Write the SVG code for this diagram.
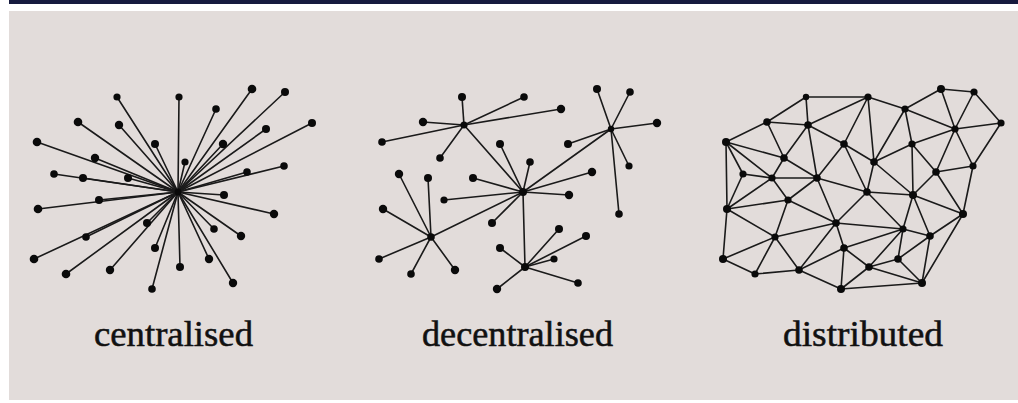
<svg xmlns="http://www.w3.org/2000/svg" width="1018" height="403" viewBox="0 0 1018 403">
<style>
.ln{stroke:#1a1a1a;stroke-width:1.6;fill:none;stroke-linecap:round}
.nd{fill:#0a0a0a}
.hb{fill:#0a0a0a}
.lbl{font-family:"Liberation Serif","Times New Roman",serif;font-size:35px;fill:#111;stroke:#111;stroke-width:0.5}
</style>
<rect x="0" y="0" width="1018" height="403" fill="#ffffff"/>
<rect x="9" y="0" width="1009" height="4" fill="#161a3e"/>
<rect x="9" y="11" width="1009" height="389" fill="#e2dcda"/>

<!-- CENTRALISED -->
<g id="centralised">
<g id="c-connectors" class="ln">
<line x1="117" y1="97" x2="178" y2="192"/>
<line x1="179" y1="97" x2="178" y2="192"/>
<line x1="252" y1="89" x2="178" y2="192"/>
<line x1="285" y1="92" x2="178" y2="192"/>
<line x1="216" y1="109" x2="178" y2="192"/>
<line x1="78" y1="122" x2="178" y2="192"/>
<line x1="119" y1="125" x2="178" y2="192"/>
<line x1="312" y1="123" x2="178" y2="192"/>
<line x1="266" y1="129" x2="178" y2="192"/>
<line x1="37" y1="142" x2="178" y2="192"/>
<line x1="155" y1="144" x2="178" y2="192"/>
<line x1="223" y1="144" x2="178" y2="192"/>
<line x1="95" y1="158" x2="178" y2="192"/>
<line x1="185" y1="162" x2="178" y2="192"/>
<line x1="284" y1="166" x2="178" y2="192"/>
<line x1="54" y1="174" x2="178" y2="192"/>
<line x1="83" y1="178" x2="178" y2="192"/>
<line x1="128" y1="178" x2="178" y2="192"/>
<line x1="247" y1="172" x2="178" y2="192"/>
<line x1="224" y1="195" x2="178" y2="192"/>
<line x1="38" y1="209" x2="178" y2="192"/>
<line x1="99" y1="200" x2="178" y2="192"/>
<line x1="274" y1="214" x2="178" y2="192"/>
<line x1="147" y1="223" x2="178" y2="192"/>
<line x1="214" y1="229" x2="178" y2="192"/>
<line x1="241" y1="236" x2="178" y2="192"/>
<line x1="86" y1="237" x2="178" y2="192"/>
<line x1="155" y1="248" x2="178" y2="192"/>
<line x1="209" y1="259" x2="178" y2="192"/>
<line x1="34" y1="259" x2="178" y2="192"/>
<line x1="66" y1="274" x2="178" y2="192"/>
<line x1="110" y1="270" x2="178" y2="192"/>
<line x1="180" y1="267" x2="178" y2="192"/>
<line x1="233" y1="283" x2="178" y2="192"/>
<line x1="152" y1="289" x2="178" y2="192"/>
</g>
<g id="c-n0"><circle class="nd" cx="117" cy="97" r="3.6"/></g>
<g id="c-n1"><circle class="nd" cx="179" cy="97" r="3.6"/></g>
<g id="c-n2"><circle class="nd" cx="252" cy="89" r="4.3"/></g>
<g id="c-n3"><circle class="nd" cx="285" cy="92" r="4"/></g>
<g id="c-n4"><circle class="nd" cx="216" cy="109" r="3.8"/></g>
<g id="c-n5"><circle class="nd" cx="78" cy="122" r="4.3"/></g>
<g id="c-n6"><circle class="nd" cx="119" cy="125" r="4.2"/></g>
<g id="c-n7"><circle class="nd" cx="312" cy="123" r="4"/></g>
<g id="c-n8"><circle class="nd" cx="266" cy="129" r="4"/></g>
<g id="c-n9"><circle class="nd" cx="37" cy="142" r="4.3"/></g>
<g id="c-n10"><circle class="nd" cx="155" cy="144" r="4"/></g>
<g id="c-n11"><circle class="nd" cx="223" cy="144" r="4.2"/></g>
<g id="c-n12"><circle class="nd" cx="95" cy="158" r="4.2"/></g>
<g id="c-n13"><circle class="nd" cx="185" cy="162" r="3.6"/></g>
<g id="c-n14"><circle class="nd" cx="284" cy="166" r="3.8"/></g>
<g id="c-n15"><circle class="nd" cx="54" cy="174" r="3.8"/></g>
<g id="c-n16"><circle class="nd" cx="83" cy="178" r="4"/></g>
<g id="c-n17"><circle class="nd" cx="128" cy="178" r="4"/></g>
<g id="c-n18"><circle class="nd" cx="247" cy="172" r="3.8"/></g>
<g id="c-hub"><circle class="hb" cx="178" cy="192" r="3.4"/></g>
<g id="c-n20"><circle class="nd" cx="224" cy="195" r="4"/></g>
<g id="c-n21"><circle class="nd" cx="38" cy="209" r="4.3"/></g>
<g id="c-n22"><circle class="nd" cx="99" cy="200" r="4"/></g>
<g id="c-n23"><circle class="nd" cx="274" cy="214" r="4.2"/></g>
<g id="c-n24"><circle class="nd" cx="147" cy="223" r="4"/></g>
<g id="c-n25"><circle class="nd" cx="214" cy="229" r="3.8"/></g>
<g id="c-n26"><circle class="nd" cx="241" cy="236" r="4.2"/></g>
<g id="c-n27"><circle class="nd" cx="86" cy="237" r="3.8"/></g>
<g id="c-n28"><circle class="nd" cx="155" cy="248" r="4"/></g>
<g id="c-n29"><circle class="nd" cx="209" cy="259" r="4.2"/></g>
<g id="c-n30"><circle class="nd" cx="34" cy="259" r="4.3"/></g>
<g id="c-n31"><circle class="nd" cx="66" cy="274" r="4.3"/></g>
<g id="c-n32"><circle class="nd" cx="110" cy="270" r="4.2"/></g>
<g id="c-n33"><circle class="nd" cx="180" cy="267" r="4"/></g>
<g id="c-n34"><circle class="nd" cx="233" cy="283" r="4.2"/></g>
<g id="c-n35"><circle class="nd" cx="152" cy="289" r="3.8"/></g>
</g>

<!-- DECENTRALISED -->
<g id="decentralised" transform="translate(345,0)">
<g id="d-connectors" class="ln">
<line x1="119" y1="125" x2="117" y2="97"/>
<line x1="119" y1="125" x2="179" y2="97"/>
<line x1="119" y1="125" x2="216" y2="109"/>
<line x1="119" y1="125" x2="78" y2="122"/>
<line x1="119" y1="125" x2="37" y2="142"/>
<line x1="119" y1="125" x2="95" y2="158"/>
<line x1="119" y1="125" x2="178" y2="192"/>
<line x1="266" y1="129" x2="252" y2="89"/>
<line x1="266" y1="129" x2="285" y2="92"/>
<line x1="266" y1="129" x2="312" y2="123"/>
<line x1="266" y1="129" x2="223" y2="144"/>
<line x1="266" y1="129" x2="284" y2="166"/>
<line x1="266" y1="129" x2="274" y2="214"/>
<line x1="266" y1="129" x2="178" y2="192"/>
<line x1="178" y1="192" x2="155" y2="144"/>
<line x1="178" y1="192" x2="185" y2="162"/>
<line x1="178" y1="192" x2="128" y2="178"/>
<line x1="178" y1="192" x2="247" y2="172"/>
<line x1="178" y1="192" x2="224" y2="195"/>
<line x1="178" y1="192" x2="99" y2="200"/>
<line x1="178" y1="192" x2="147" y2="223"/>
<line x1="178" y1="192" x2="86" y2="237"/>
<line x1="178" y1="192" x2="180" y2="267"/>
<line x1="86" y1="237" x2="54" y2="174"/>
<line x1="86" y1="237" x2="83" y2="178"/>
<line x1="86" y1="237" x2="38" y2="209"/>
<line x1="86" y1="237" x2="34" y2="259"/>
<line x1="86" y1="237" x2="66" y2="274"/>
<line x1="86" y1="237" x2="110" y2="270"/>
<line x1="180" y1="267" x2="214" y2="229"/>
<line x1="180" y1="267" x2="241" y2="236"/>
<line x1="180" y1="267" x2="155" y2="248"/>
<line x1="180" y1="267" x2="209" y2="259"/>
<line x1="180" y1="267" x2="233" y2="283"/>
<line x1="180" y1="267" x2="152" y2="289"/>
</g>
<g id="d-n0"><circle class="nd" cx="117" cy="97" r="4"/></g>
<g id="d-n1"><circle class="nd" cx="179" cy="97" r="3.8"/></g>
<g id="d-n2"><circle class="nd" cx="252" cy="89" r="4"/></g>
<g id="d-n3"><circle class="nd" cx="285" cy="92" r="3.8"/></g>
<g id="d-n4"><circle class="nd" cx="216" cy="109" r="4.2"/></g>
<g id="d-n5"><circle class="nd" cx="78" cy="122" r="4.2"/></g>
<g id="d-hubA"><circle class="hb" cx="119" cy="125" r="3.6"/></g>
<g id="d-n7"><circle class="nd" cx="312" cy="123" r="4.2"/></g>
<g id="d-hubB"><circle class="hb" cx="266" cy="129" r="3.2"/></g>
<g id="d-n9"><circle class="nd" cx="37" cy="142" r="3.8"/></g>
<g id="d-n10"><circle class="nd" cx="155" cy="144" r="4"/></g>
<g id="d-n11"><circle class="nd" cx="223" cy="144" r="4"/></g>
<g id="d-n12"><circle class="nd" cx="95" cy="158" r="3.8"/></g>
<g id="d-n13"><circle class="nd" cx="185" cy="162" r="3.8"/></g>
<g id="d-n14"><circle class="nd" cx="284" cy="166" r="3.6"/></g>
<g id="d-n15"><circle class="nd" cx="54" cy="174" r="4.2"/></g>
<g id="d-n16"><circle class="nd" cx="83" cy="178" r="4"/></g>
<g id="d-n17"><circle class="nd" cx="128" cy="178" r="4"/></g>
<g id="d-n18"><circle class="nd" cx="247" cy="172" r="4.2"/></g>
<g id="d-hubC"><circle class="hb" cx="178" cy="192" r="4"/></g>
<g id="d-n20"><circle class="nd" cx="224" cy="195" r="4.2"/></g>
<g id="d-n21"><circle class="nd" cx="38" cy="209" r="4.2"/></g>
<g id="d-n22"><circle class="nd" cx="99" cy="200" r="3.6"/></g>
<g id="d-n23"><circle class="nd" cx="274" cy="214" r="3.8"/></g>
<g id="d-n24"><circle class="nd" cx="147" cy="223" r="4"/></g>
<g id="d-n25"><circle class="nd" cx="214" cy="229" r="4"/></g>
<g id="d-n26"><circle class="nd" cx="241" cy="236" r="4"/></g>
<g id="d-hubD"><circle class="hb" cx="86" cy="237" r="3.8"/></g>
<g id="d-n28"><circle class="nd" cx="155" cy="248" r="4"/></g>
<g id="d-n29"><circle class="nd" cx="209" cy="259" r="3.6"/></g>
<g id="d-n30"><circle class="nd" cx="34" cy="259" r="3.8"/></g>
<g id="d-n31"><circle class="nd" cx="66" cy="274" r="3.8"/></g>
<g id="d-n32"><circle class="nd" cx="110" cy="270" r="4.2"/></g>
<g id="d-hubE"><circle class="hb" cx="180" cy="267" r="4"/></g>
<g id="d-n34"><circle class="nd" cx="233" cy="283" r="3.8"/></g>
<g id="d-n35"><circle class="nd" cx="152" cy="289" r="4.2"/></g>
</g>

<!-- DISTRIBUTED -->
<g id="distributed" transform="translate(689,0)">
<g id="x-connectors" class="ln">
<line x1="117" y1="97" x2="179" y2="97"/>
<line x1="117" y1="97" x2="78" y2="122"/>
<line x1="117" y1="97" x2="119" y2="125"/>
<line x1="179" y1="97" x2="119" y2="125"/>
<line x1="179" y1="97" x2="216" y2="109"/>
<line x1="179" y1="97" x2="155" y2="144"/>
<line x1="179" y1="97" x2="185" y2="162"/>
<line x1="252" y1="89" x2="285" y2="92"/>
<line x1="252" y1="89" x2="216" y2="109"/>
<line x1="252" y1="89" x2="266" y2="129"/>
<line x1="285" y1="92" x2="266" y2="129"/>
<line x1="285" y1="92" x2="312" y2="123"/>
<line x1="216" y1="109" x2="266" y2="129"/>
<line x1="216" y1="109" x2="223" y2="144"/>
<line x1="216" y1="109" x2="185" y2="162"/>
<line x1="312" y1="123" x2="266" y2="129"/>
<line x1="312" y1="123" x2="284" y2="166"/>
<line x1="266" y1="129" x2="223" y2="144"/>
<line x1="266" y1="129" x2="247" y2="172"/>
<line x1="266" y1="129" x2="284" y2="166"/>
<line x1="78" y1="122" x2="37" y2="142"/>
<line x1="78" y1="122" x2="119" y2="125"/>
<line x1="78" y1="122" x2="95" y2="158"/>
<line x1="119" y1="125" x2="95" y2="158"/>
<line x1="119" y1="125" x2="155" y2="144"/>
<line x1="119" y1="125" x2="128" y2="178"/>
<line x1="37" y1="142" x2="95" y2="158"/>
<line x1="37" y1="142" x2="54" y2="174"/>
<line x1="37" y1="142" x2="83" y2="178"/>
<line x1="37" y1="142" x2="38" y2="209"/>
<line x1="155" y1="144" x2="185" y2="162"/>
<line x1="155" y1="144" x2="128" y2="178"/>
<line x1="155" y1="144" x2="178" y2="192"/>
<line x1="223" y1="144" x2="185" y2="162"/>
<line x1="223" y1="144" x2="224" y2="195"/>
<line x1="223" y1="144" x2="247" y2="172"/>
<line x1="95" y1="158" x2="83" y2="178"/>
<line x1="95" y1="158" x2="128" y2="178"/>
<line x1="185" y1="162" x2="178" y2="192"/>
<line x1="185" y1="162" x2="224" y2="195"/>
<line x1="284" y1="166" x2="247" y2="172"/>
<line x1="284" y1="166" x2="274" y2="214"/>
<line x1="54" y1="174" x2="83" y2="178"/>
<line x1="54" y1="174" x2="38" y2="209"/>
<line x1="83" y1="178" x2="128" y2="178"/>
<line x1="83" y1="178" x2="38" y2="209"/>
<line x1="83" y1="178" x2="99" y2="200"/>
<line x1="128" y1="178" x2="99" y2="200"/>
<line x1="128" y1="178" x2="178" y2="192"/>
<line x1="128" y1="178" x2="147" y2="223"/>
<line x1="247" y1="172" x2="224" y2="195"/>
<line x1="247" y1="172" x2="274" y2="214"/>
<line x1="178" y1="192" x2="224" y2="195"/>
<line x1="178" y1="192" x2="147" y2="223"/>
<line x1="178" y1="192" x2="214" y2="229"/>
<line x1="224" y1="195" x2="274" y2="214"/>
<line x1="224" y1="195" x2="214" y2="229"/>
<line x1="224" y1="195" x2="241" y2="236"/>
<line x1="38" y1="209" x2="99" y2="200"/>
<line x1="38" y1="209" x2="86" y2="237"/>
<line x1="38" y1="209" x2="34" y2="259"/>
<line x1="99" y1="200" x2="147" y2="223"/>
<line x1="99" y1="200" x2="86" y2="237"/>
<line x1="274" y1="214" x2="241" y2="236"/>
<line x1="274" y1="214" x2="233" y2="283"/>
<line x1="147" y1="223" x2="214" y2="229"/>
<line x1="147" y1="223" x2="86" y2="237"/>
<line x1="147" y1="223" x2="155" y2="248"/>
<line x1="147" y1="223" x2="110" y2="270"/>
<line x1="214" y1="229" x2="241" y2="236"/>
<line x1="214" y1="229" x2="155" y2="248"/>
<line x1="214" y1="229" x2="209" y2="259"/>
<line x1="214" y1="229" x2="180" y2="267"/>
<line x1="241" y1="236" x2="209" y2="259"/>
<line x1="241" y1="236" x2="233" y2="283"/>
<line x1="86" y1="237" x2="34" y2="259"/>
<line x1="86" y1="237" x2="66" y2="274"/>
<line x1="86" y1="237" x2="110" y2="270"/>
<line x1="155" y1="248" x2="110" y2="270"/>
<line x1="155" y1="248" x2="180" y2="267"/>
<line x1="155" y1="248" x2="152" y2="289"/>
<line x1="209" y1="259" x2="180" y2="267"/>
<line x1="209" y1="259" x2="233" y2="283"/>
<line x1="34" y1="259" x2="66" y2="274"/>
<line x1="66" y1="274" x2="110" y2="270"/>
<line x1="110" y1="270" x2="152" y2="289"/>
<line x1="180" y1="267" x2="152" y2="289"/>
<line x1="180" y1="267" x2="233" y2="283"/>
<line x1="233" y1="283" x2="152" y2="289"/>
</g>
<g id="x-n0"><circle class="nd" cx="117" cy="97" r="3.2"/></g>
<g id="x-n1"><circle class="nd" cx="179" cy="97" r="3.6"/></g>
<g id="x-n2"><circle class="nd" cx="252" cy="89" r="4"/></g>
<g id="x-n3"><circle class="nd" cx="285" cy="92" r="3.6"/></g>
<g id="x-n4"><circle class="nd" cx="216" cy="109" r="3.6"/></g>
<g id="x-n5"><circle class="nd" cx="78" cy="122" r="3.8"/></g>
<g id="x-n6"><circle class="nd" cx="119" cy="125" r="3.8"/></g>
<g id="x-n7"><circle class="nd" cx="312" cy="123" r="3.6"/></g>
<g id="x-n8"><circle class="nd" cx="266" cy="129" r="3.6"/></g>
<g id="x-n9"><circle class="nd" cx="37" cy="142" r="4"/></g>
<g id="x-n10"><circle class="nd" cx="155" cy="144" r="3.8"/></g>
<g id="x-n11"><circle class="nd" cx="223" cy="144" r="3.6"/></g>
<g id="x-n12"><circle class="nd" cx="95" cy="158" r="3.8"/></g>
<g id="x-n13"><circle class="nd" cx="185" cy="162" r="3.8"/></g>
<g id="x-n14"><circle class="nd" cx="284" cy="166" r="3.6"/></g>
<g id="x-n15"><circle class="nd" cx="54" cy="174" r="3.6"/></g>
<g id="x-n16"><circle class="nd" cx="83" cy="178" r="3.6"/></g>
<g id="x-n17"><circle class="nd" cx="128" cy="178" r="3.8"/></g>
<g id="x-n18"><circle class="nd" cx="247" cy="172" r="3.8"/></g>
<g id="x-n19"><circle class="nd" cx="178" cy="192" r="3.8"/></g>
<g id="x-n20"><circle class="nd" cx="224" cy="195" r="4"/></g>
<g id="x-n21"><circle class="nd" cx="38" cy="209" r="4"/></g>
<g id="x-n22"><circle class="nd" cx="99" cy="200" r="3.6"/></g>
<g id="x-n23"><circle class="nd" cx="274" cy="214" r="4"/></g>
<g id="x-n24"><circle class="nd" cx="147" cy="223" r="3.8"/></g>
<g id="x-n25"><circle class="nd" cx="214" cy="229" r="3.6"/></g>
<g id="x-n26"><circle class="nd" cx="241" cy="236" r="3.8"/></g>
<g id="x-n27"><circle class="nd" cx="86" cy="237" r="3.6"/></g>
<g id="x-n28"><circle class="nd" cx="155" cy="248" r="3.8"/></g>
<g id="x-n29"><circle class="nd" cx="209" cy="259" r="3.8"/></g>
<g id="x-n30"><circle class="nd" cx="34" cy="259" r="4"/></g>
<g id="x-n31"><circle class="nd" cx="66" cy="274" r="3.6"/></g>
<g id="x-n32"><circle class="nd" cx="110" cy="270" r="3.8"/></g>
<g id="x-n33"><circle class="nd" cx="180" cy="267" r="3.8"/></g>
<g id="x-n34"><circle class="nd" cx="233" cy="283" r="4"/></g>
<g id="x-n35"><circle class="nd" cx="152" cy="289" r="4"/></g>
</g>

<g id="labels">
<text class="lbl" x="94" y="346" textLength="159" lengthAdjust="spacingAndGlyphs">centralised</text>
<text class="lbl" x="422" y="346" textLength="191" lengthAdjust="spacingAndGlyphs">decentralised</text>
<text class="lbl" x="783" y="346" textLength="160" lengthAdjust="spacingAndGlyphs">distributed</text>
</g>
</svg>
